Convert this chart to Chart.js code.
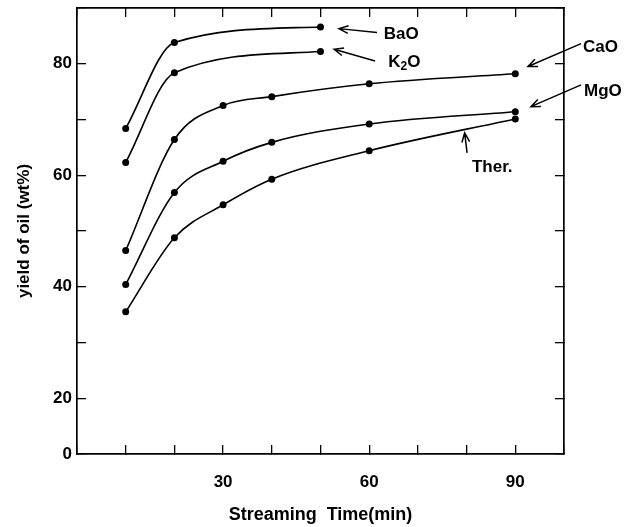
<!DOCTYPE html>
<html>
<head>
  <title>Yield of oil vs streaming time</title>
  <script src="https://cdn.jsdelivr.net/npm/chart.js"></script>
  <style>
    body { margin: 0; background: #fff; }
    #wrap { width: 624px; height: 527px; }
  </style>
</head>
<body>
  <div id="wrap"><canvas id="myChart"></canvas></div>

  <script>
    // streaming time (min)
    const shortTimes = [10, 20, 50];
    const longTimes = [10, 20, 30, 40, 60, 90];

    // yield of oil (wt%)
    const baoYield = [68.4, 83.8, 86.6];
    const k2oYield = [62.3, 78.4, 82.2];
    const caoYield = [46.5, 66.4, 72.5, 74.1, 76.4, 78.2];
    const mgoYield = [40.4, 56.9, 62.5, 65.9, 69.2, 71.4];
    const therYield = [35.5, 48.8, 54.7, 59.3, 64.4, 70.1];

    // labelled ticks (the axis is broken at the bottom, shown as 0)
    const xLabelTicks = [30, 60, 90];
    const yLabelTicks = [20, 40, 60, 80];
    const yBottomLabel = '0';

    // series labels with arrows, in data units
    const notes = [
      { text: [['BaO', false]], at: [63.0, 85.2], from: [61.6, 85.6], to: [53.8, 86.3] },
      { text: [['K', false], ['2', true], ['O', false]], at: [63.9, 80.2], from: [61.2, 80.5], to: [52.8, 82.6] },
      { text: [['CaO', false]], at: [103.9, 82.9], from: [103.5, 83.6], to: [92.6, 79.5] },
      { text: [['MgO', false]], at: [104.1, 75.0], from: [103.5, 76.2], to: [93.2, 72.3] },
      { text: [['Ther.', false]], at: [81.1, 61.5], from: [80.1, 64.0], to: [79.6, 67.6] }
    ];

    const FONT = "'Liberation Sans', Arial, sans-serif";

    function toPoints(xs, ys) {
      return xs.map((x, i) => ({ x: x, y: ys[i] }));
    }

    function series(label, xs, ys) {
      return {
        label: label,
        data: toPoints(xs, ys),
        borderColor: '#000',
        backgroundColor: '#000',
        borderWidth: 1.6,
        pointRadius: 3.5,
        pointBackgroundColor: '#000',
        pointBorderWidth: 0,
        cubicInterpolationMode: 'monotone',
        fill: false
      };
    }

    // draws the curve labels and arrows
    const notesPlugin = {
      id: 'notes',
      afterDatasetsDraw(chart) {
        const ctx = chart.ctx;
        const xs = chart.scales.x;
        const ys = chart.scales.y;
        ctx.save();
        ctx.strokeStyle = '#000';
        ctx.fillStyle = '#000';
        ctx.lineWidth = 1.5;
        notes.forEach(n => {
          let px = xs.getPixelForValue(n.at[0]);
          const py = ys.getPixelForValue(n.at[1]);
          ctx.textBaseline = 'middle';
          ctx.textAlign = 'left';
          n.text.forEach(([t, sub]) => {
            ctx.font = 'bold ' + (sub ? '12px ' : '17px ') + FONT;
            ctx.fillText(t, px, sub ? py + 4 : py);
            px += ctx.measureText(t).width;
          });

          const x1 = xs.getPixelForValue(n.from[0]);
          const y1 = ys.getPixelForValue(n.from[1]);
          const x2 = xs.getPixelForValue(n.to[0]);
          const y2 = ys.getPixelForValue(n.to[1]);
          ctx.beginPath();
          ctx.moveTo(x1, y1);
          ctx.lineTo(x2, y2);
          const a = Math.atan2(y2 - y1, x2 - x1);
          const len = 10;
          ctx.moveTo(x2 - len * Math.cos(a - 0.4), y2 - len * Math.sin(a - 0.4));
          ctx.lineTo(x2, y2);
          ctx.lineTo(x2 - len * Math.cos(a + 0.4), y2 - len * Math.sin(a + 0.4));
          ctx.stroke();
        });
        ctx.restore();
      }
    };

    const gridOpts = {
      drawOnChartArea: false,
      color: '#000',
      lineWidth: 1.3,
      tickLength: -9
    };
    const borderOpts = { display: true, color: '#000', width: 1.7 };

    function noPad(s) {
      s.paddingTop = 0;
      s.paddingBottom = 0;
    }

    var ctx = document.getElementById('myChart').getContext('2d');
    var myChart = new Chart(ctx, {
      type: 'line',
      data: {
        datasets: [
          series('BaO', shortTimes, baoYield),
          series('K2O', shortTimes, k2oYield),
          series('CaO', longTimes, caoYield),
          series('MgO', longTimes, mgoYield),
          series('Ther.', longTimes, therYield)
        ]
      },
      options: {
        responsive: true,
        maintainAspectRatio: false,
        animation: false,
        layout: { padding: 0 },
        plugins: {
          legend: { display: false },
          tooltip: { enabled: false }
        },
        scales: {
          x: {
            type: 'linear',
            position: 'bottom',
            min: 0,
            max: 100,
            grid: gridOpts,
            border: borderOpts,
            ticks: {
              stepSize: 10,
              padding: 27,
              color: '#000',
              font: { family: FONT, size: 17, weight: 'bold' },
              maxRotation: 0,
              autoSkip: false,
              callback: v => xLabelTicks.includes(v) ? String(v) : ''
            },
            title: {
              display: true,
              text: 'Streaming  Time(min)',
              color: '#000',
              font: { family: FONT, size: 18, weight: 'bold' },
              padding: { top: 0, bottom: 1 }
            },
            afterFit: s => { s.height = 73; }
          },
          x2: {
            type: 'linear',
            position: 'top',
            min: 0,
            max: 100,
            grid: gridOpts,
            border: borderOpts,
            ticks: { stepSize: 10, display: false },
            afterFit: s => { s.height = 8; }
          },
          y: {
            type: 'linear',
            position: 'left',
            min: 10,
            max: 90,
            grid: gridOpts,
            border: borderOpts,
            ticks: {
              stepSize: 10,
              padding: 14,
              color: '#000',
              font: { family: FONT, size: 17, weight: 'bold' },
              autoSkip: false,
              callback: v => v === 10 ? yBottomLabel : (yLabelTicks.includes(v) ? String(v) : '')
            },
            title: {
              display: true,
              text: 'yield of oil (wt%)',
              color: '#000',
              font: { family: FONT, size: 17, weight: 'bold' },
              padding: { top: 14, bottom: 0 }
            },
            afterFit: s => { s.width = 77; noPad(s); }
          },
          y2: {
            type: 'linear',
            position: 'right',
            min: 10,
            max: 90,
            grid: gridOpts,
            border: borderOpts,
            ticks: { stepSize: 10, display: false },
            afterFit: s => { s.width = 60; noPad(s); }
          }
        }
      },
      plugins: [notesPlugin]
    });
  </script>
</body>
</html>
